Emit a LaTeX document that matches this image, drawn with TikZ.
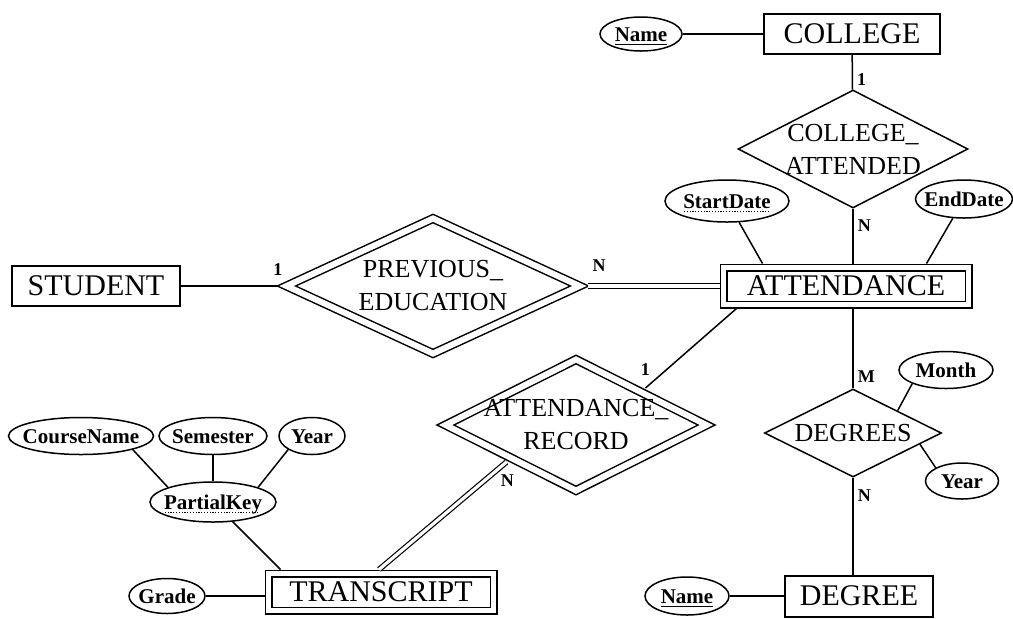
\documentclass[tikz,border=0pt]{standalone}
\usepackage{fontspec}
\setmainfont{Liberation Serif}
\usetikzlibrary{shapes.geometric,calc}
\newcommand\dotul[1]{\leavevmode\setbox0\hbox{#1}\rlap{\raisebox{-2.2pt}{\hbox to\wd0{\leaders\hbox to 1.4pt{\hss\rule{.6pt}{.6pt}\hss}\hfill}}}\box0}

\begin{document}
\begin{tikzpicture}[x=0.5pt,y=-0.5pt,line width=.75pt,
    entity/.style={draw,rectangle,line width=1pt,font=\fontsize{15}{18}\selectfont},
    weak/.style={entity,line width=.75pt,double,double distance=2.5pt,outer sep=2pt},
    rel/.style={draw,diamond,shape aspect=2,inner sep=-4pt,align=center,font=\fontsize{13}{16.5}\selectfont},
    idrel/.style={rel,double,double distance=3pt,outer sep=3pt},
    attr/.style={draw,ellipse,inner xsep=-4pt,inner ysep=-2pt,text height=7pt,text depth=0pt,font=\fontsize{10.5}{12}\selectfont\bfseries},
    card/.style={font=\fontsize{9}{10}\selectfont\bfseries,inner sep=2pt},
    total/.style={double,double distance=1.6pt,line width=.6pt}]
    \useasboundingbox (0,0) rectangle (1013,618);

    \node[entity,minimum width=88pt,minimum height=20pt] (college) at (852,34) {COLLEGE};
    \node[attr,minimum width=41pt,minimum height=17pt] (cname) at (641,34) {\underline{Name}};
    \node[rel,minimum width=115pt,minimum height=59pt] (colatt) at (853,149) {COLLEGE\_\\ATTENDED};
    \node[attr,minimum width=62pt,minimum height=21pt] (start) at (727,201) {\dotul{StartDate}};
    \node[attr,minimum width=48.5pt,minimum height=19pt] (end) at (964,199) {EndDate};
    \node[weak,minimum width=122.5pt,minimum height=18.5pt] (att) at (846,286) {ATTENDANCE};
    \node[entity,minimum width=84pt,minimum height=20pt] (student) at (96,286) {STUDENT};
    \node[idrel,minimum width=149pt,minimum height=70pt] (prev) at (433,286) {PREVIOUS\_\\EDUCATION};
    \node[idrel,minimum width=133pt,minimum height=68pt] (attrec) at (576,425) {ATTENDANCE\_\\RECORD};
    \node[weak,minimum width=112.5pt,minimum height=18.5pt] (trans) at (381,592) {TRANSCRIPT};
    \node[attr,minimum width=38pt,minimum height=17.5pt] (grade) at (167,596) {Grade};
    \node[attr,minimum width=63pt,minimum height=20pt] (pk) at (213,502) {\dotul{PartialKey}};
    \node[attr,minimum width=72.5pt,minimum height=18.5pt] (cn) at (81,436) {CourseName};
    \node[attr,minimum width=54pt,minimum height=18.5pt] (sem) at (213,436) {Semester};
    \node[attr,minimum width=33pt,minimum height=18.5pt] (yr) at (312,436) {Year};
    \node[rel,minimum width=88.5pt,minimum height=44pt] (degs) at (853,433) {DEGREES};
    \node[attr,minimum width=47pt,minimum height=18.5pt] (month) at (946,370) {Month};
    \node[attr,minimum width=36.5pt,minimum height=18pt] (yr2) at (962,481) {Year};
    \node[entity,minimum width=74pt,minimum height=20.5pt] (dg) at (859,596) {DEGREE};
    \node[attr,minimum width=42pt,minimum height=19pt] (dname) at (687,596) {\underline{Name}};

    \draw (cname) -- (college);
    \draw (college) -- node[card,pos=.7,right] {1} (colatt);
    \draw (colatt.south) -- node[card,pos=.3,right] {N} (colatt.south |- att.north);
    \draw (start) -- ([xshift=21.5pt]att.north west);
    \draw (end) -- ([xshift=-23pt]att.north east);
    \draw (student) -- node[card,pos=1,above,yshift=3pt] {1} (prev);
    \draw[total] (prev) -- node[card,pos=0,above right,yshift=5pt] {N} (att);
    \draw ([xshift=8.5pt]att.south west) -- node[card,pos=.9,above left] {1} (attrec.north east);
    \draw[total] (attrec.south west) -- node[card,pos=.08,below right] {N} ([xshift=-1pt]trans.north);
    \draw (degs.north |- att.south) -- node[card,pos=.85,right] {M} (degs.north);
    \draw (month.south west) -- (degs.north east);
    \draw (yr2.north west) -- ($(degs.east)!.25!(degs.south)$);
    \draw (degs.south) -- node[card,pos=.18,right] {N} (degs.south |- dg.north);
    \draw (dname) -- (dg);
    \draw (cn.south east) -- (pk.north west);
    \draw (sem) -- (pk);
    \draw (yr.south west) -- (pk.north east);
    \draw (pk) -- ([xshift=8pt]trans.north west);
    \draw (grade) -- (grade -| trans.west);
\end{tikzpicture}
\end{document}
